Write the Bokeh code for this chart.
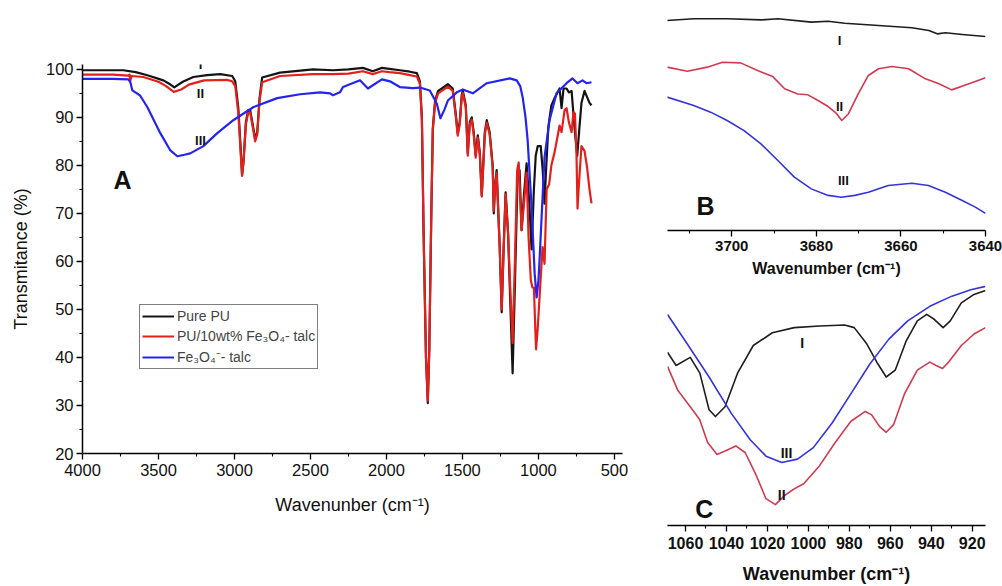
from bokeh.plotting import figure
from bokeh.models import Range1d, FixedTicker, Label, Legend, LegendItem
from bokeh.layouts import row, column
from bokeh.embed import file_html
from bokeh.resources import INLINE

# ---------------- data (wavenumber cm-1, transmittance %) ----------------
pu_A = [(4000, 99.8), (3900, 99.8), (3731, 99.8), (3650, 99.4), (3573, 98.75), (3468, 97.7), (3430, 97.0),
        (3396, 96.25), (3340, 97.4), (3271, 98.4), (3180, 98.8), (3094, 99.0), (3015, 98.6), (2995, 97.5),
        (2975, 92), (2960, 84), (2950, 78), (2940, 81), (2925, 89), (2910, 91.5), (2897, 91.5), (2880, 88.5),
        (2864, 85.5), (2850, 87), (2835, 94), (2818, 98.3), (2700, 99.3), (2483, 100), (2352, 99.8),
        (2250, 100), (2155, 100.3), (2090, 99.6), (2030, 100.3), (1980, 100.1), (1912, 99.8), (1846, 99.5),
        (1800, 99.2), (1780, 97.5), (1767, 90), (1755, 65), (1740, 40), (1728, 30.5), (1718, 42), (1705, 70),
        (1695, 87.7), (1680, 93.5), (1660, 95.5), (1636, 96), (1596, 96.9), (1564, 96), (1545, 91),
        (1531, 86.7), (1518, 89), (1505, 94.6), (1498, 95.6), (1478, 92.5), (1465, 82.5), (1452, 89),
        (1439, 90), (1426, 86.9), (1413, 82.1), (1399, 86.25), (1386, 82.7), (1373, 73.75), (1353, 86.9),
        (1340, 89.4), (1321, 86.9), (1301, 80), (1294, 70), (1285, 76), (1275, 79), (1255, 63), (1242, 49.4),
        (1229, 62.9), (1216, 74.4), (1200, 66), (1189, 55), (1170, 36.7), (1155, 55), (1137, 78), (1124, 79),
        (1111, 66.5), (1095, 74), (1078, 80.4), (1060, 72), (1045, 62.5), (1030, 75), (1018, 82), (1005, 84),
        (985, 84), (972, 79), (960, 72), (950, 79), (935, 88), (915, 92.5), (894, 94), (861, 96), (848, 91.9),
        (835, 96), (815, 96), (800, 95.2), (782, 95.5), (770, 90.8), (760, 86.9), (745, 82), (730, 88),
        (717, 93), (697, 95.5), (677, 94), (664, 93), (651, 92.5)]

composite_A = [(4000, 98.9), (3800, 98.9), (3700, 98.7), (3690, 98.9), (3685, 97.6), (3678, 98.6), (3600, 98.4),
               (3500, 97.4), (3450, 96.5), (3400, 95.3), (3350, 95.8), (3300, 96.8), (3200, 97.7), (3050, 97.8),
               (3015, 97.5), (2995, 96.5), (2975, 91), (2960, 83), (2950, 77.8), (2940, 81), (2925, 88.5),
               (2910, 91), (2897, 91), (2880, 88), (2864, 85), (2850, 86.5), (2835, 93.5), (2818, 97.3),
               (2700, 98.6), (2483, 99), (2352, 99), (2250, 99.1), (2155, 99.6), (2090, 99.0), (2030, 99.6),
               (1980, 99.4), (1912, 99.2), (1846, 98.8), (1800, 98.5), (1780, 97), (1767, 89.5), (1755, 64.5),
               (1740, 40), (1728, 31), (1718, 42), (1705, 70), (1695, 87.5), (1680, 93), (1660, 95), (1636, 95.5),
               (1596, 96.4), (1564, 95.5), (1545, 90.5), (1531, 86.2), (1518, 88.5), (1505, 94.1), (1498, 95.1),
               (1478, 92), (1465, 82), (1452, 88.5), (1439, 89.5), (1426, 86.4), (1413, 81.6), (1399, 85.8),
               (1386, 82.2), (1373, 73.5), (1353, 86.4), (1340, 88.9), (1321, 86.4), (1301, 79.5), (1294, 70.5),
               (1285, 75.5), (1275, 78.5), (1255, 63), (1242, 50), (1229, 62.5), (1216, 74), (1200, 66),
               (1189, 57), (1170, 43), (1155, 60), (1140, 79), (1130, 80.6), (1111, 66.5), (1095, 72),
               (1078, 78.5), (1065, 65), (1050, 56), (1040, 54.6), (1030, 54.5), (1016, 41.7), (1005, 46),
               (990, 54), (973, 63), (960, 59.5), (946, 75), (930, 76), (915, 80), (894, 82.7), (861, 88.3),
               (848, 86.9), (828, 91.5), (815, 91.9), (800, 89), (782, 86.9), (770, 91), (760, 90.8),
               (750, 82.7), (743, 71), (736, 75), (717, 84), (697, 83), (680, 79.6), (664, 75), (651, 72.1)]

filler_A = [(4000, 98.0), (3800, 98.0), (3698, 97.9), (3685, 97.3), (3672, 95.6), (3652, 95.2), (3620, 94.5),
            (3573, 92.1), (3488, 86.7), (3422, 83.1), (3376, 81.9), (3330, 82.2), (3291, 82.5), (3205, 84),
            (3113, 86.7), (3008, 89.4), (2877, 92.1), (2719, 94), (2568, 94.8), (2437, 95.2), (2371, 95),
            (2352, 94.6), (2306, 95.2), (2286, 96.3), (2174, 97.7), (2122, 96), (2030, 97.9), (1977, 97.5),
            (1912, 96.3), (1826, 96.1), (1780, 96.2), (1715, 95.6), (1669, 92.9), (1645, 89.8), (1620, 91.5),
            (1596, 93.5), (1537, 95.2), (1498, 95.8), (1432, 95), (1340, 97.1), (1189, 98.1), (1143, 97.7),
            (1120, 96.5), (1104, 94.2), (1085, 90), (1071, 85.2), (1045, 71.2), (1025, 57.5), (1012, 52.5),
            (1000, 56), (992, 60.8), (975, 72), (960, 81.7), (927, 89.4), (881, 95), (815, 97.1), (776, 98.1),
            (743, 97.1), (710, 97.7), (684, 97.1), (651, 97.3)]

# panel B (O-H region, arbitrary offset units)
pu_B = [(3715.3, 93.3), (3709, 94.1), (3701, 94.1), (3693.1, 93.6), (3689.1, 94.1), (3681.2, 92.6),
        (3677.2, 93), (3673.3, 92.1), (3665.3, 91.1), (3657.4, 90.1), (3653.4, 88.9), (3651.4, 87.4),
        (3649.5, 87.9), (3645.5, 87.1), (3640, 86.2)]
composite_B = [(3715.3, 72.6), (3710.5, 70.8), (3705.8, 72.6), (3702.2, 74.8), (3697.9, 74.5), (3693.9, 71.1),
               (3690.3, 68.4), (3687.5, 63), (3684.4, 60.7), (3682, 60.3), (3679.6, 57.8), (3677.2, 55.1),
               (3675.2, 51.9), (3674, 48.9), (3672.4, 51.9), (3670.1, 60.7), (3667.7, 68.9), (3665.3, 71.9),
               (3662.1, 72.9), (3658.2, 71.9), (3654.2, 67.4), (3651, 65.2), (3648, 62.5), (3643.9, 65.2),
               (3640, 67.9)]
filler_B = [(3715.3, 59.3), (3709, 55.6), (3705, 52.6), (3701.1, 48.9), (3697.1, 44.4), (3693.1, 38.5),
            (3689.1, 31.1), (3685.2, 23.7), (3681.2, 18.5), (3677.2, 15.6), (3674.1, 14.8), (3670.9, 15.6),
            (3667.7, 17.0), (3663, 20.0), (3657.4, 21.0), (3653.5, 20.0), (3649.5, 17.0), (3645.5, 13.3),
            (3642.4, 10.4), (3640, 7.6)]

# panel C (Si-O region)
pu_C = [(1068.8, 77.8), (1064.6, 74.7), (1057.7, 76.6), (1053, 72.9), (1048.5, 64.3), (1045.4, 62.7),
        (1040.7, 65), (1034.6, 72.9), (1026.9, 79.4), (1017.6, 82.4), (1006.9, 83.6), (994.5, 84),
        (982.3, 84.2), (977.6, 83.6), (971.5, 79.8), (966.1, 75.1), (962, 72), (957.6, 73.6), (952.2, 80.5),
        (946.8, 85.2), (942.2, 86.7), (938.4, 85.5), (934.2, 83.6), (930.7, 85.2), (925.3, 89.4),
        (919.1, 91.4), (913.5, 92.3)]
composite_C = [(1068.8, 74.5), (1063.8, 68.9), (1057.7, 65), (1053.1, 62), (1049.2, 56.6), (1044.6, 53.8),
               (1040.7, 54.6), (1035.4, 55.8), (1030.8, 54.2), (1025.4, 48.8), (1020.7, 43.4), (1016.1, 42),
               (1011.5, 44.2), (1006.9, 45.7), (1002.3, 46.9), (994.6, 51.1), (986.9, 56.6), (979.2, 61.6),
               (972.2, 63.9), (969.1, 63.1), (965.3, 60.4), (962, 59), (958.4, 60.8), (953, 68.1),
               (946.8, 73.6), (940.7, 75.5), (937.6, 74.7), (934.5, 74), (931.5, 75.5), (925.3, 79.4),
               (919.1, 82.1), (913.5, 83.6)]
filler_C = [(1068.8, 86.7), (1059.2, 79.8), (1048.5, 72), (1037.7, 63.5), (1028.5, 57.3), (1020.7, 53.4),
            (1013, 51.9), (1005.3, 52.7), (997.6, 55.4), (988.4, 61.2), (979.2, 68.1), (969.9, 75.1),
            (960.7, 80.9), (951.5, 85.2), (940.7, 88.6), (929.9, 91), (920.7, 92.5), (913.5, 93.3)]

series_names = ["Pure PU", "PU/10wt% Fe\u2083O\u2084- talc", "Fe\u2083O\u2084\u207b- talc"]
ticks_A_x = [4000, 3500, 3000, 2500, 2000, 1500, 1000, 500]
ticks_A_y = [20, 30, 40, 50, 60, 70, 80, 90, 100]
ticks_B = [3700, 3680, 3660, 3640]
ticks_C = [1060, 1040, 1020, 1000, 980, 960, 940, 920]

FONT = "Liberation Sans"
BLACK_A, RED_A, BLUE_A = "#141414", "#e2201c", "#2424ee"
BLACK_BC, RED_BC, BLUE_BC = "#1e1e1e", "#d23a50", "#3434dc"


def xs(d):
    return [p[0] for p in d]


def ys(d):
    return [p[1] for p in d]


def style_axis(ax, tick_size, bold, label_size, label_bold):
    ax.axis_line_color = "black"
    ax.axis_line_width = 1.5
    ax.major_tick_line_color = "black"
    ax.minor_tick_line_color = "black"
    ax.major_tick_line_width = 1.3
    ax.minor_tick_line_width = 1.1
    ax.major_tick_out = 6
    ax.major_tick_in = 0
    ax.minor_tick_out = 3
    ax.minor_tick_in = 0
    ax.major_label_text_font = FONT
    ax.major_label_text_font_size = tick_size
    ax.major_label_text_font_style = "bold" if bold else "normal"
    ax.major_label_text_color = "#111111"
    ax.axis_label_text_font = FONT
    ax.axis_label_text_font_size = label_size
    ax.axis_label_text_font_style = "bold" if label_bold else "normal"
    ax.axis_label_text_color = "#111111"


def clean(p):
    p.outline_line_color = None
    p.xgrid.visible = False
    p.ygrid.visible = False
    p.background_fill_color = "white"
    p.border_fill_color = "white"


# ---------------- panel A ----------------
pA = figure(width=655, height=586, x_range=Range1d(4000, 447), y_range=Range1d(20, 101),
            output_backend="svg", toolbar_location=None,
            min_border_left=82, min_border_right=33, min_border_top=64, min_border_bottom=133)
clean(pA)
rA1 = pA.line(xs(pu_A), ys(pu_A), line_color=BLACK_A, line_width=2.2, line_join="round")
rA2 = pA.line(xs(composite_A), ys(composite_A), line_color=RED_A, line_width=2.2, line_join="round")
rA3 = pA.line(xs(filler_A), ys(filler_A), line_color=BLUE_A, line_width=2.2, line_join="round")

pA.xaxis.ticker = FixedTicker(ticks=ticks_A_x, minor_ticks=[t - 250 for t in ticks_A_x])
pA.yaxis.ticker = FixedTicker(ticks=ticks_A_y, minor_ticks=[t + 5 for t in ticks_A_y])
pA.xaxis.axis_label = "Wavenunber (cm\u207b\u00b9)"
pA.yaxis.axis_label = "Transmitance (%)"
style_axis(pA.xaxis[0], "16.5px", False, "18px", False)
style_axis(pA.yaxis[0], "16.5px", False, "18px", False)
pA.xaxis.major_label_standoff = 4
pA.xaxis.axis_label_standoff = 16
pA.yaxis.major_label_standoff = 3
pA.yaxis.axis_label_standoff = 12

legend = Legend(items=[LegendItem(label=series_names[0], renderers=[rA1]),
                       LegendItem(label=series_names[1], renderers=[rA2]),
                       LegendItem(label=series_names[2], renderers=[rA3])],
                location=(57, 84), border_line_color="black", border_line_width=1,
                background_fill_color="white", background_fill_alpha=1.0,
                padding=2, spacing=2, margin=0, glyph_width=32, glyph_height=18, label_height=18,
                label_standoff=3, label_text_font=FONT, label_text_font_size="14px")
pA.add_layout(legend)

for txt, x, y, size in [("I", 3224, 101.0, "13px"), ("II", 3224, 95.0, "13px"), ("III", 3224, 85.2, "13px")]:
    pA.add_layout(Label(x=x, y=y, text=txt, text_align="center", text_baseline="middle",
                        text_font=FONT, text_font_size=size, text_font_style="bold", text_color="#111111"))
pA.add_layout(Label(x=3737, y=76.9, text="A", text_align="center", text_baseline="middle",
                    text_font=FONT, text_font_size="25px", text_font_style="bold", text_color="#111111"))

# ---------------- panel B ----------------
pB = figure(width=347, height=283, x_range=Range1d(3715.2, 3640), y_range=Range1d(0, 100),
            output_backend="svg", toolbar_location=None, y_axis_location=None,
            min_border_left=12, min_border_right=17, min_border_top=5, min_border_bottom=53)
clean(pB)
pB.line(xs(pu_B), ys(pu_B), line_color=BLACK_BC, line_width=1.6, line_join="round")
pB.line(xs(composite_B), ys(composite_B), line_color=RED_BC, line_width=1.6, line_join="round")
pB.line(xs(filler_B), ys(filler_B), line_color=BLUE_BC, line_width=1.6, line_join="round")
pB.xaxis.ticker = FixedTicker(ticks=ticks_B, minor_ticks=[t + 10 for t in ticks_B])
pB.xaxis.axis_label = "Wavenumber (cm\u207b\u00b9)"
style_axis(pB.xaxis[0], "15px", True, "16px", True)
pB.xaxis.major_label_standoff = 4
pB.xaxis.axis_label_standoff = 6
for txt, x, y in [("I", 3674.5, 84.4), ("II", 3674.5, 55.1), ("III", 3673.6, 22.2)]:
    pB.add_layout(Label(x=x, y=y, text=txt, text_align="center", text_baseline="middle",
                        text_font=FONT, text_font_size="13px", text_font_style="bold", text_color="#111111"))
pB.add_layout(Label(x=3706.2, y=11.1, text="B", text_align="center", text_baseline="middle",
                    text_font=FONT, text_font_size="25px", text_font_style="bold", text_color="#111111"))

# ---------------- panel C ----------------
pC = figure(width=347, height=303, x_range=Range1d(1068.8, 913.5), y_range=Range1d(37.1, 93.5),
            output_backend="svg", toolbar_location=None, y_axis_location=None,
            min_border_left=11, min_border_right=0, min_border_top=2, min_border_bottom=59)
clean(pC)
pC.line(xs(pu_C), ys(pu_C), line_color=BLACK_BC, line_width=1.6, line_join="round")
pC.line(xs(composite_C), ys(composite_C), line_color=RED_BC, line_width=1.6, line_join="round")
pC.line(xs(filler_C), ys(filler_C), line_color=BLUE_BC, line_width=1.6, line_join="round")
pC.xaxis.ticker = FixedTicker(ticks=ticks_C, minor_ticks=[t - 10 for t in ticks_C] + [1070])
pC.xaxis.axis_label = "Wavenumber (cm\u207b\u00b9)"
style_axis(pC.xaxis[0], "16px", True, "18px", True)
pC.xaxis.major_label_standoff = 5
pC.xaxis.axis_label_standoff = 12
for txt, x, y in [("I", 1003, 80.1), ("III", 1010.7, 54.2), ("II", 1013, 44.2)]:
    pC.add_layout(Label(x=x, y=y, text=txt, text_align="center", text_baseline="middle",
                        text_font=FONT, text_font_size="14px", text_font_style="bold", text_color="#111111"))
pC.add_layout(Label(x=1050.8, y=41, text="C", text_align="center", text_baseline="middle",
                    text_font=FONT, text_font_size="25px", text_font_style="bold", text_color="#111111"))

layout = row(pA, column(pB, pC, spacing=0), spacing=0)
open("out.html", "w").write(file_html(layout, INLINE))
